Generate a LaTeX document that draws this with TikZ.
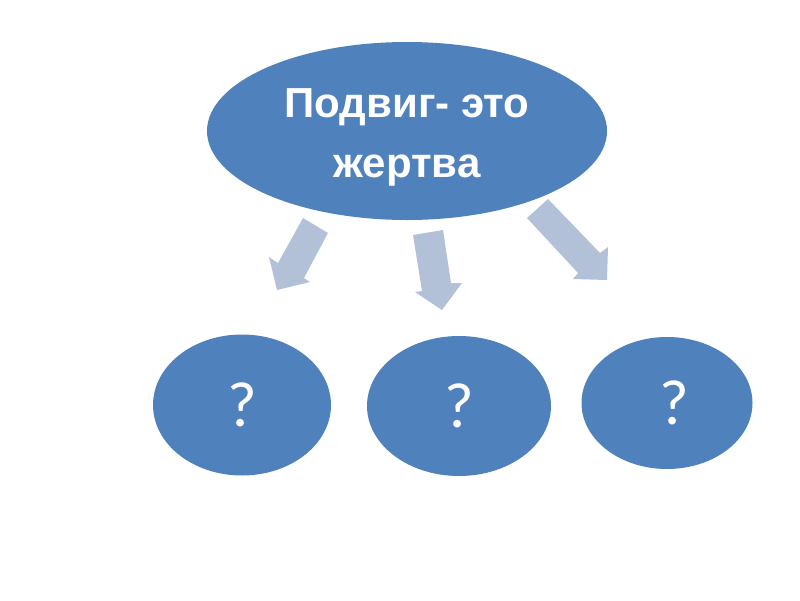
\documentclass[tikz,border=0pt]{standalone}
\usepackage{fontspec}
\setmainfont{Liberation Sans}
\newfontfamily\qfont{Carlito}
\usetikzlibrary{shapes.geometric}
\definecolor{blobblue}{RGB}{79,129,189}
\definecolor{arrowgray}{RGB}{178,193,216}
\tikzset{
  blob/.style={ellipse, fill=blobblue, draw=none, inner sep=0pt, text=white},
  qmark/.style={blob, font=\qfont\fontsize{64}{64}\selectfont},
  titletext/.style={text=white, align=center, inner sep=0pt,
      font=\bfseries\fontsize{42}{60}\selectfont},
  blockarrow/.style={fill=arrowgray, draw=none}
}
\begin{document}
\begin{tikzpicture}[x=1pt,y=-1pt]
\useasboundingbox (0,0) rectangle (800,600);
\node[blob, minimum width=400pt, minimum height=178pt] (top) at (407,131) {};
\node[titletext] (toptext) at ([yshift=-6pt]top.center) {Подвиг- это\\жертва};
\node[qmark, minimum width=178pt, minimum height=141pt] (q1) at (242,405) {?};
\node[qmark, minimum width=184pt, minimum height=140pt] (q2) at (459,406) {?};
\node[qmark, minimum width=171pt, minimum height=132pt] (q3) at (667,403) {\hspace*{14pt}?};
\fill[blockarrow] (303,218) -- (328,233) -- (304,278) -- (310,282) -- (277,290) -- (269,257) -- (278,263) -- cycle;
\fill[blockarrow] (413,235) -- (443,230) -- (451,283) -- (462,283) -- (442,310) -- (415,292) -- (422,291) -- cycle;
\fill[blockarrow] (527,218) -- (548,199) -- (600,253) -- (608,247) -- (607,280) -- (573,279) -- (578,273) -- cycle;
\end{tikzpicture}
\end{document}
